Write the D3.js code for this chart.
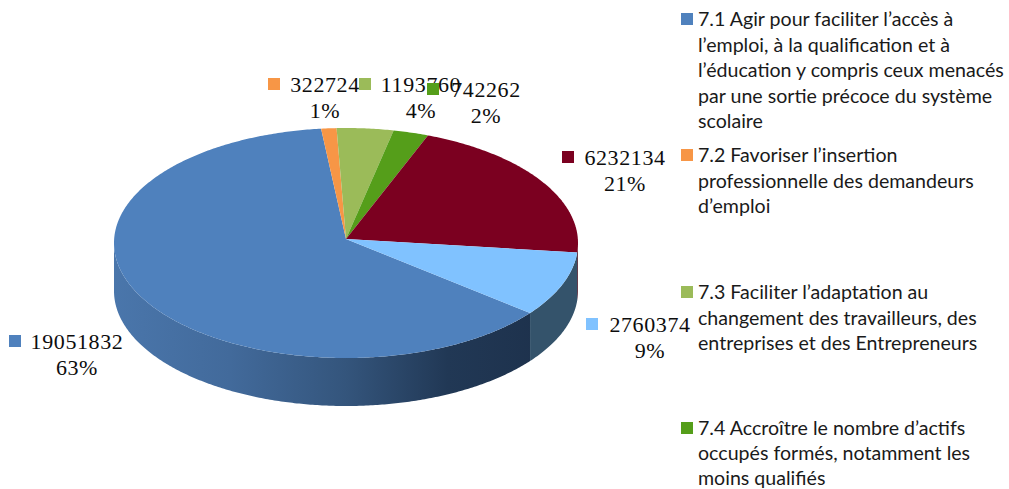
<!DOCTYPE html>
<html>
<head>
<meta charset="utf-8">
<script src="https://cdn.jsdelivr.net/npm/d3@7"></script>
<style>
  html, body { margin: 0; padding: 0; background: #fff; }
  svg { display: block; }
  .val { font-family: "Liberation Serif", serif; font-size: 22px; letter-spacing: 0.6px; fill: #0d0d0d; text-anchor: middle; }
  .leg { font-family: Lato, sans-serif; font-size: 19.6px; fill: #1a1a1a; }
</style>
</head>
<body>
<div id="chart"></div>
<script>
var values = [19051832, 322724, 1193760, 742262, 6232134, 2760374];
var colors = ['#4f81bd', '#f79646', '#9bbb59', '#559e1a', '#7b0020', '#80c2ff'];

var legendLines = [
  ['7.1 Agir pour faciliter l’accès à', 'l’emploi, à la qualification et à', 'l’éducation y compris ceux menacés', 'par une sortie précoce du système', 'scolaire'],
  ['7.2 Favoriser l’insertion', 'professionnelle des demandeurs', 'd’emploi'],
  ['7.3 Faciliter l’adaptation au', 'changement des travailleurs, des', 'entreprises et des Entrepreneurs'],
  ['7.4 Accroître le nombre d’actifs', 'occupés formés, notamment les', 'moins qualifiés']
];

// hand placed, same order as values
var labelBox = [
  { sx: 9, sy: 335, tx: 77, ty: 349 },
  { sx: 268, sy: 78, tx: 325, ty: 92 },
  { sx: 359, sy: 78, tx: 421, ty: 92 },
  { sx: 427, sy: 83, tx: 486, ty: 97 },
  { sx: 562, sy: 151, tx: 625, ty: 165 },
  { sx: 586, sy: 318, tx: 650, ty: 332 }
];
var legendY = [26, 162, 299, 435];
var legendStep = [25.5, 25.5, 25.5, 24.8];

var width = 1009;
var height = 489;
var cx = 346, cy = 243;    // ellipse centre
var apexY = 239;           // the tilted pie has its apex a bit above the centre
var rx = 232, ry = 115;
var depth = 48;
var swatch = 12;
var rotation = 127.5 * Math.PI / 180;

var svg = d3.select('#chart')
  .append('svg')
  .attr('width', width)
  .attr('height', height);

var defs = svg.append('defs');

var blueSide = defs.append('linearGradient')
  .attr('id', 'blueSide')
  .attr('gradientUnits', 'userSpaceOnUse')
  .attr('x1', cx - rx).attr('x2', cx + rx).attr('y1', 0).attr('y2', 0);
[[0, '#4a76ab'], [0.25, '#426a9b'], [0.5, '#34557c'], [0.72, '#213855'], [1, '#1c2f49']].forEach(function(s) {
  blueSide.append('stop').attr('offset', s[0]).attr('stop-color', s[1]);
});

var total = d3.sum(values);
var pct = d3.format('.0%');

var pie = d3.pie()
  .value(function(d) { return d; })
  .sort(null)
  .startAngle(rotation)
  .endAngle(rotation + 2 * Math.PI);

var slices = pie(values);

function rimX(a) { return cx + rx * Math.sin(a); }
function rimY(a) { return cy - ry * Math.cos(a); }

function rim(a0, a1) {
  var pts = d3.range(a0, a1, 0.01).concat([a1]);
  return pts.map(function(a) { return [rimX(a), rimY(a)]; });
}

var line = d3.line();

// side wall, only the front half can be seen
function sidePath(d) {
  var a0 = d.startAngle, a1 = d.endAngle;
  var parts = [];
  [0, 2 * Math.PI].forEach(function(off) {
    var s = Math.max(a0, Math.PI / 2 + off);
    var e = Math.min(a1, 1.5 * Math.PI + off);
    if (s < e) parts.push([s, e]);
  });
  return parts.map(function(p) {
    var top = rim(p[0], p[1]);
    var bottom = top.map(function(q) { return [q[0], q[1] + depth]; }).reverse();
    return line(top.concat(bottom)) + 'Z';
  }).join('');
}

var sideFill = ['url(#blueSide)', '#000', '#000', '#000', '#4a0013', '#34536b'];

svg.selectAll('path.side')
  .data(slices)
  .enter()
  .append('path')
  .attr('class', 'side')
  .attr('d', sidePath)
  .attr('fill', function(d, i) { return sideFill[i]; });

svg.selectAll('path.top')
  .data(slices)
  .enter()
  .append('path')
  .attr('class', 'top')
  .attr('d', function(d) {
    return line([[cx, apexY]].concat(rim(d.startAngle, d.endAngle))) + 'Z';
  })
  .attr('fill', function(d, i) { return colors[i]; });

// data labels
var labels = svg.selectAll('g.label')
  .data(values)
  .enter()
  .append('g')
  .attr('class', 'label');

labels.append('text')
  .attr('class', 'val')
  .attr('x', function(d, i) { return labelBox[i].tx; })
  .attr('y', function(d, i) { return labelBox[i].ty; })
  .text(function(d) { return d; });

labels.append('text')
  .attr('class', 'val')
  .attr('x', function(d, i) { return labelBox[i].tx; })
  .attr('y', function(d, i) { return labelBox[i].ty + 26; })
  .text(function(d) { return pct(d / total); });

labels.append('rect')
  .attr('x', function(d, i) { return labelBox[i].sx; })
  .attr('y', function(d, i) { return labelBox[i].sy; })
  .attr('width', swatch)
  .attr('height', swatch)
  .attr('fill', function(d, i) { return colors[i]; });

// legend on the right
var legend = svg.selectAll('g.legend')
  .data(legendLines)
  .enter()
  .append('g')
  .attr('class', 'legend')
  .attr('transform', function(d, i) { return 'translate(681,' + legendY[i] + ')'; });

legend.append('rect')
  .attr('y', -13)
  .attr('width', swatch)
  .attr('height', swatch)
  .attr('fill', function(d, i) { return colors[i]; });

legend.each(function(lines, k) {
  d3.select(this).selectAll('text')
    .data(lines)
    .enter()
    .append('text')
    .attr('class', 'leg')
    .attr('x', 17)
    .attr('y', function(d, i) { return i * legendStep[k]; })
    .text(function(d) { return d; });
});
</script>
</body>
</html>
